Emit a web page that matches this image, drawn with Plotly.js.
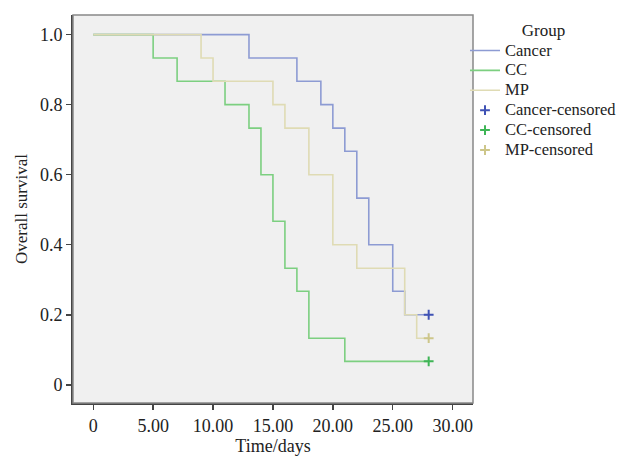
<!DOCTYPE html>
<html>
<head>
<meta charset="utf-8">
<script src="https://cdn.plot.ly/plotly-3.0.1.min.js"></script>
<style>html,body{margin:0;padding:0;background:#fff;}#chart{width:617px;height:456px;}</style>
</head>
<body>
<div id="chart"></div>
<script>
// Kaplan-Meier step data (time in days, survival proportion)
const cancerTime = [0, 13, 17, 19, 20, 21, 22, 23, 25, 26, 28];
const cancerSurv = [1.0, 0.933, 0.867, 0.8, 0.733, 0.667, 0.533, 0.4, 0.267, 0.2, 0.2];
const ccTime = [0, 5, 7, 11, 13, 14, 15, 16, 17, 18, 21, 28];
const ccSurv = [1.0, 0.933, 0.867, 0.8, 0.733, 0.6, 0.467, 0.333, 0.267, 0.133, 0.067, 0.067];
const mpTime = [0, 9, 10, 15, 16, 18, 20, 22, 26, 27, 28];
const mpSurv = [1.0, 0.933, 0.867, 0.8, 0.733, 0.6, 0.4, 0.333, 0.2, 0.133, 0.133];
const cancerCensTime = [28];
const cancerCensSurv = [0.2];
const ccCensTime = [28];
const ccCensSurv = [0.067];
const mpCensTime = [28];
const mpCensSurv = [0.133];
const groupNames = ['Cancer', 'CC', 'MP', 'Cancer-censored', 'CC-censored', 'MP-censored'];
const xTickVals = [0, 5, 10, 15, 20, 25, 30];
const xTickText = ['0', '5.00', '10.00', '15.00', '20.00', '25.00', '30.00'];
const yTickVals = [0, 0.2, 0.4, 0.6, 0.8, 1.0];
const yTickText = ['0', '0.2', '0.4', '0.6', '0.8', '1.0'];

const FONT = 'Liberation Serif, Times New Roman, serif';
const FS = 18;
const lbl = n => '<span style="font-size:16.5px">' + n + '</span>';

const traces = [
  {x: cancerTime, y: cancerSurv, name: lbl(groupNames[0]), mode: 'lines', line: {shape: 'hv', color: '#8d9bd3', width: 1.6}},
  {x: ccTime, y: ccSurv, name: lbl(groupNames[1]), mode: 'lines', line: {shape: 'hv', color: '#7ccf80', width: 1.6}},
  {x: mpTime, y: mpSurv, name: lbl(groupNames[2]), mode: 'lines', line: {shape: 'hv', color: '#dfdbb4', width: 1.6}},
  {x: cancerCensTime, y: cancerCensSurv, name: lbl(groupNames[3]), mode: 'markers', marker: {symbol: 'cross-thin', size: 7, line: {color: '#3f52b4', width: 2}}},
  {x: ccCensTime, y: ccCensSurv, name: lbl(groupNames[4]), mode: 'markers', marker: {symbol: 'cross-thin', size: 7, line: {color: '#3fb556', width: 2}}},
  {x: mpCensTime, y: mpCensSurv, name: lbl(groupNames[5]), mode: 'markers', marker: {symbol: 'cross-thin', size: 7, line: {color: '#cdc68a', width: 2}}}
];

const layout = {
  width: 617, height: 456,
  margin: {l: 73, r: 144, t: 15, b: 53, autoexpand: false},
  paper_bgcolor: '#ffffff',
  plot_bgcolor: '#f0f0f0',
  font: {family: FONT, size: FS, color: '#222'},
  showlegend: true,
  legend: {
    x: 0.98, xanchor: 'left', y: 1.004, yanchor: 'top',
    bgcolor: 'rgba(0,0,0,0)',
    font: {family: FONT, size: 13, color: '#222'},
    title: {text: 'Group', side: 'top center', font: {family: FONT, size: 17, color: '#222'}},
    itemwidth: 30,
    tracegroupgap: 0
  },
  xaxis: {
    range: [-1.69, 31.7],
    tickvals: xTickVals, ticktext: xTickText,
    ticks: 'outside', ticklen: 5, tickwidth: 1.5, tickcolor: '#444',
    showgrid: false, zeroline: false,
    showline: true, linecolor: '#444', linewidth: 2,
    tickfont: {family: FONT, size: FS, color: '#222'},
    title: {text: 'Time/days', font: {family: FONT, size: FS, color: '#222'}, standoff: 6}
  },
  yaxis: {
    range: [-0.052, 1.056],
    tickvals: yTickVals, ticktext: yTickText,
    ticks: 'outside', ticklen: 5, tickwidth: 1.5, tickcolor: '#444',
    showgrid: false, zeroline: false,
    showline: true, linecolor: '#444', linewidth: 2,
    tickfont: {family: FONT, size: FS, color: '#222'},
    title: {text: 'Overall survival', font: {family: FONT, size: 17, color: '#222'}, standoff: 8}
  },
  shapes: [
    {type: 'rect', xref: 'paper', yref: 'paper', x0: 0, x1: 1, y0: 0, y1: 1, line: {color: '#888', width: 1.5}, layer: 'above'}
  ]
};

Plotly.newPlot('chart', traces, layout, {displayModeBar: false, staticPlot: true});
</script>
</body>
</html>
